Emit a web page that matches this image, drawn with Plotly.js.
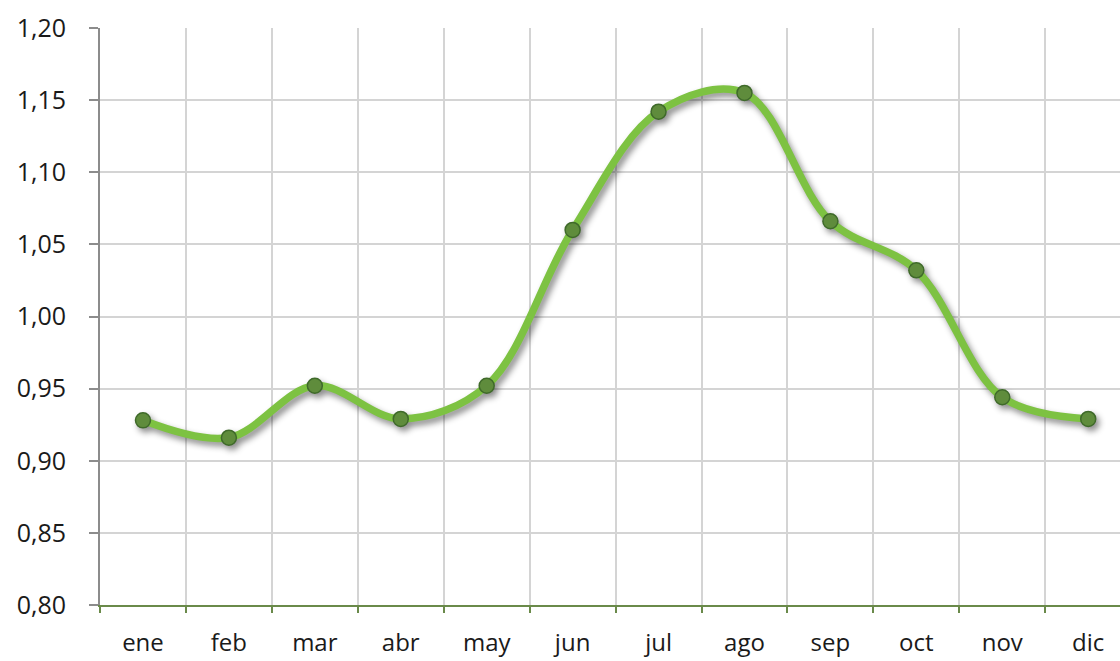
<!DOCTYPE html>
<html>
<head>
<meta charset="utf-8">
<script src="https://cdn.plot.ly/plotly-3.0.1.min.js"></script>
<style>
  html, body { margin: 0; padding: 0; background: #fff; }
  #chart { width: 1120px; height: 661px; }
</style>
</head>
<body>
<div id="chart"></div>
<script>
const months = ["ene", "feb", "mar", "abr", "may", "jun", "jul", "ago", "sep", "oct", "nov", "dic"];
const values = [0.928, 0.916, 0.952, 0.929, 0.952, 1.060, 1.142, 1.155, 1.066, 1.032, 0.944, 0.929];
const yTicks = [0.80, 0.85, 0.90, 0.95, 1.00, 1.05, 1.10, 1.15, 1.20];

const trace = {
  x: months,
  y: values,
  type: "scatter",
  mode: "lines+markers",
  line: { shape: "spline", smoothing: 1.0, color: "#7dc242", width: 7.5 },
  marker: { size: 15, color: "#5f8c3c", line: { color: "#3f6a2a", width: 1.5 } },
  hoverinfo: "x+y",
  cliponaxis: false
};

const layout = {
  width: 1120,
  height: 661,
  margin: { l: 100, r: 0, t: 28, b: 56 },
  paper_bgcolor: "#ffffff",
  plot_bgcolor: "#ffffff",
  showlegend: false,
  separators: ",.",
  font: { family: "Open Sans, Liberation Sans, sans-serif", color: "#1a1a1a" },
  xaxis: {
    type: "category",
    range: [-0.5, 11.37],
    tickson: "boundaries",
    showgrid: true,
    gridcolor: "#d4d4d4",
    gridwidth: 2,
    showline: true,
    linecolor: "#6a8a4a",
    linewidth: 2,
    ticks: "outside",
    ticklen: 6,
    tickwidth: 2,
    tickcolor: "#6a8a4a",
    tickfont: { size: 24, color: "#1a1a1a" },
    ticklabelstandoff: 15,
    zeroline: false,
    fixedrange: true
  },
  yaxis: {
    range: [0.80, 1.20],
    tickmode: "array",
    tickvals: yTicks,
    tickformat: ".2f",
    showgrid: true,
    gridcolor: "#d4d4d4",
    gridwidth: 2,
    showline: true,
    linecolor: "#8c8c8c",
    linewidth: 2,
    ticks: "outside",
    ticklen: 9,
    tickwidth: 2,
    tickcolor: "#8c8c8c",
    tickfont: { size: 25, color: "#1a1a1a" },
    ticklabelstandoff: 18,
    zeroline: false,
    fixedrange: true
  }
};

Plotly.newPlot("chart", [trace], layout, { displayModeBar: false, staticPlot: true }).then(function () {
  document.querySelectorAll(".scatterlayer .trace").forEach(function (t) {
    t.style.filter = "drop-shadow(3px 4px 3px rgba(0,0,0,0.45))";
  });
});
</script>
</body>
</html>
